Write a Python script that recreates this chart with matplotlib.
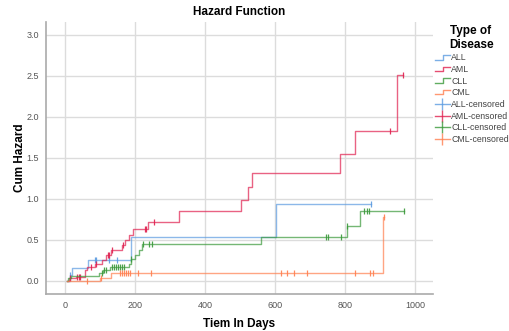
import matplotlib
matplotlib.use("Agg")
import matplotlib.pyplot as plt
from matplotlib.lines import Line2D
from matplotlib.legend_handler import HandlerBase

plt.rcParams["font.family"] = ["Liberation Sans", "DejaVu Sans"]

# step times (days) and cumulative hazard after each step
all_t = [5, 15, 20, 65, 190, 603, 873]
all_h = [0.0, 0.07, 0.16, 0.26, 0.54, 0.94, 0.94]
all_ct = [15, 86, 90, 127, 148, 873]
all_ch = [0.07, 0.26, 0.26, 0.26, 0.26, 0.94]

aml_t = [5, 11, 31, 57, 64, 86, 105, 117, 133, 162, 171, 184, 195, 237, 327,
         504, 522, 534, 786, 827, 948, 966]
aml_h = [0.0, 0.03, 0.05, 0.13, 0.17, 0.20, 0.26, 0.32, 0.38, 0.44, 0.50, 0.56,
         0.63, 0.72, 0.85, 0.99, 1.14, 1.32, 1.55, 1.83, 2.51, 2.51]
aml_ct = [14, 36, 40, 44, 76, 90, 122, 126, 136, 165, 228, 233, 254, 929, 966]
aml_ch = [0.03, 0.05, 0.05, 0.05, 0.17, 0.20, 0.32, 0.32, 0.38, 0.44, 0.63, 0.63,
          0.72, 1.83, 2.51]

cll_t = [5, 10, 18, 99, 108, 130, 183, 188, 200, 212, 220, 559, 805, 843, 967]
cll_h = [0.0, 0.03, 0.06, 0.09, 0.13, 0.17, 0.21, 0.27, 0.32, 0.37, 0.45, 0.54,
         0.67, 0.85, 0.85]
cll_ct = [105, 112, 118, 135, 140, 146, 152, 157, 163, 168, 190, 222, 241, 248,
          746, 752, 789, 805, 855, 862, 869, 967]
cll_ch = [0.09, 0.13, 0.13, 0.17, 0.17, 0.17, 0.17, 0.17, 0.17, 0.17, 0.27, 0.45,
          0.45, 0.45, 0.54, 0.54, 0.54, 0.67, 0.85, 0.85, 0.85, 0.85]

cml_t = [5, 100, 133, 908, 911]
cml_h = [0.0, 0.04, 0.09, 0.78, 0.78]
cml_ct = [63, 104, 157, 162, 168, 174, 181, 186, 210, 245, 617, 633, 655, 692,
          829, 870, 879, 911]
cml_ch = [0.0, 0.04, 0.09, 0.09, 0.09, 0.09, 0.09, 0.09, 0.09, 0.09, 0.09, 0.09,
          0.09, 0.09, 0.09, 0.09, 0.09, 0.78]

labels = ["ALL", "AML", "CLL", "CML"]
colors = ["#5b9be0", "#e0204f", "#3a993a", "#ff7f4f"]
series = [(all_t, all_h, all_ct, all_ch), (aml_t, aml_h, aml_ct, aml_ch),
          (cll_t, cll_h, cll_ct, cll_ch), (cml_t, cml_h, cml_ct, cml_ch)]


class StepHandler(HandlerBase):
    def create_artists(self, legend, orig_handle, xdescent, ydescent, width,
                       height, fontsize, trans):
        x0 = -xdescent
        y0 = -ydescent + height * 0.15
        y1 = -ydescent + height * 0.85
        xs = [x0, x0 + width * 0.55, x0 + width * 0.55, x0 + width]
        ys = [y0, y0, y1, y1]
        ln = Line2D(xs, ys, color=orig_handle.get_color(), lw=1, alpha=0.8)
        ln.set_transform(trans)
        return [ln]


fig = plt.figure(figsize=(5.1, 3.31), dpi=100)
ax = fig.add_axes([0.090, 0.112, 0.759, 0.822])

for (t, h, ct, ch), c in zip(series, colors):
    ax.step(t, h, where="post", color=c, lw=1.0, alpha=0.7)
    ax.plot(ct, ch, ls="none", marker="|", ms=5, mew=0.9, color=c, alpha=0.9)

ax.set_xlim(-54, 1051)
ax.set_ylim(-0.16, 3.16)
ax.set_xticks([0, 200, 400, 600, 800, 1000])
ax.set_yticks([0.0, 0.5, 1.0, 1.5, 2.0, 2.5, 3.0])
ax.set_yticklabels(["0.0", "0.5", "1.0", "1.5", "2.0", "2.5", "3.0"])
ax.tick_params(length=0, labelsize=6.5, labelcolor="#555555", pad=5)
ax.grid(True, color="#dcdcdc", lw=1)
ax.set_axisbelow(True)
for s in ["top", "right"]:
    ax.spines[s].set_visible(False)
for s in ["left", "bottom"]:
    ax.spines[s].set_color("#aaaaaa")
    ax.spines[s].set_linewidth(1.2)

ax.set_title("Hazard Function", fontsize=8.5, fontweight="bold", pad=5)
ax.set_xlabel("Tiem In Days", fontsize=8.5, fontweight="bold", labelpad=6)
ax.set_ylabel("Cum Hazard", fontsize=8.5, fontweight="bold", labelpad=0)

handles = []
names = []
for lab, c in zip(labels, colors):
    handles.append(Line2D([], [], color=c))
    names.append(lab)
cens = []
for lab, c in zip(labels, colors):
    cens.append(Line2D([], [], color=c, lw=1, marker="|", ms=8, mew=1, alpha=0.8))
    names.append(lab + "-censored")
hmap = {h: StepHandler() for h in handles}
leg = fig.legend(handles + cens, names, loc="upper left",
                 bbox_to_anchor=(0.846, 0.935), frameon=False, fontsize=6.3,
                 handler_map=hmap, handlelength=1.7, handletextpad=0.15,
                 labelspacing=0.3, borderaxespad=0,
                 title="Type of\nDisease",
                 title_fontproperties={"weight": "bold", "size": 8.5})
for txt in leg.get_texts():
    txt.set_color("#444444")

fig.savefig("out.png", dpi=100)
